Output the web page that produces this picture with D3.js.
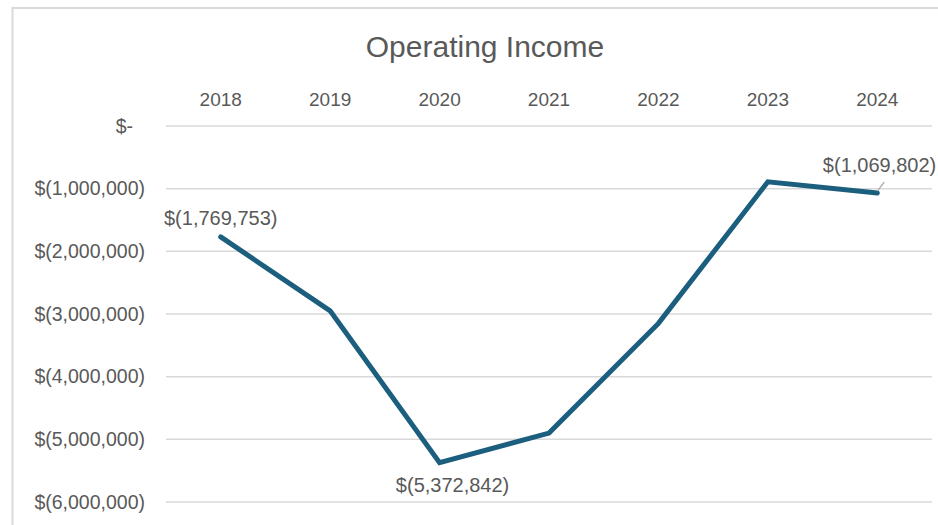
<!DOCTYPE html>
<html><head><meta charset="utf-8">
<script src="https://cdn.jsdelivr.net/npm/d3@7"></script>
<style>
html,body{margin:0;padding:0;background:#fff;}
svg{display:block;}
</style></head>
<body>
<script>
const years = ["2018","2019","2020","2021","2022","2023","2024"];
const income = [-1769753, -2950000, -5372842, -4900000, -3150000, -890000, -1069802];
const yTicks = [0, -1000000, -2000000, -3000000, -4000000, -5000000, -6000000];
const labeledYears = ["2018","2020","2024"];
const title = "Operating Income";

const W = 938, H = 525;
const svg = d3.select("body").append("svg").attr("width", W).attr("height", H);

// frame
svg.append("rect").attr("x", 12.5).attr("y", 8).attr("width", W + 10).attr("height", H + 10)
  .attr("fill", "#fff").attr("stroke", "#d9d9d9").attr("stroke-width", 2);

const x = d3.scaleBand().domain(years).range([166, 932]);
const y = d3.scaleLinear().domain([-6000000, 0]).range([502, 126]);

svg.append("text").attr("x", 485).attr("y", 57).attr("text-anchor", "middle")
  .attr("font-family", "Liberation Sans, Arial, sans-serif")
  .attr("font-size", 30).attr("fill", "#595959").text(title);

const fmt = v => v === 0 ? "$-" : "$(" + d3.format(",")(Math.abs(v)) + ")";

// y axis (labels + gridlines)
const yAxis = d3.axisLeft(y).tickValues(yTicks).tickFormat(fmt).tickSize(0).tickPadding(21);
const gy = svg.append("g").attr("transform", "translate(166,0)").call(yAxis);
gy.select(".domain").remove();
gy.selectAll("text").attr("font-family", "Liberation Sans, Arial, sans-serif")
  .attr("font-size", 19.5).attr("fill", "#595959")
  .attr("dx", d => d === 0 ? -12 : 0);

svg.append("g").selectAll("line").data(yTicks).join("line")
  .attr("x1", 166).attr("x2", 932)
  .attr("y1", d => y(d)).attr("y2", d => y(d))
  .attr("stroke", "#d9d9d9").attr("stroke-width", 1.5);

// x axis on top
const xAxis = d3.axisTop(x).tickSize(0).tickPadding(0);
const gx = svg.append("g").attr("transform", "translate(0,106)").call(xAxis);
gx.select(".domain").remove();
gx.selectAll("text").attr("font-family", "Liberation Sans, Arial, sans-serif")
  .attr("font-size", 19).attr("fill", "#595959").attr("dy", 0);

// line
const data = years.map((yr, i) => ({yr, v: income[i]}));
const line = d3.line().x(d => x(d.yr) + x.bandwidth() / 2).y(d => y(d.v));
svg.append("path").datum(data).attr("d", line).attr("fill", "none")
  .attr("stroke", "#1b5e7e").attr("stroke-width", 5)
  .attr("stroke-linejoin", "miter").attr("stroke-linecap", "round");

// data labels
const off = {"2018": [0, -12], "2020": [13, 29], "2024": [6, -21]};
const lab = data.filter(d => labeledYears.includes(d.yr));
// leader line for 2024
const d24 = data.find(d => d.yr === "2024");
svg.append("line")
  .attr("x1", x(d24.yr) + x.bandwidth() / 2).attr("y1", y(d24.v) - 2)
  .attr("x2", x(d24.yr) + x.bandwidth() / 2 + 7).attr("y2", y(d24.v) - 11)
  .attr("stroke", "#a6a6a6").attr("stroke-width", 1.2);
svg.append("g").selectAll("text").data(lab).join("text")
  .attr("x", d => x(d.yr) + x.bandwidth() / 2 + off[d.yr][0])
  .attr("y", d => y(d.v) + off[d.yr][1])
  .attr("text-anchor", d => d.yr === "2024" ? "end" : "middle")
  .attr("dx", d => d.yr === "2024" ? 53 : 0)
  .attr("font-family", "Liberation Sans, Arial, sans-serif")
  .attr("font-size", 20).attr("fill", "#595959")
  .text(d => fmt(d.v));
</script>
</body></html>
